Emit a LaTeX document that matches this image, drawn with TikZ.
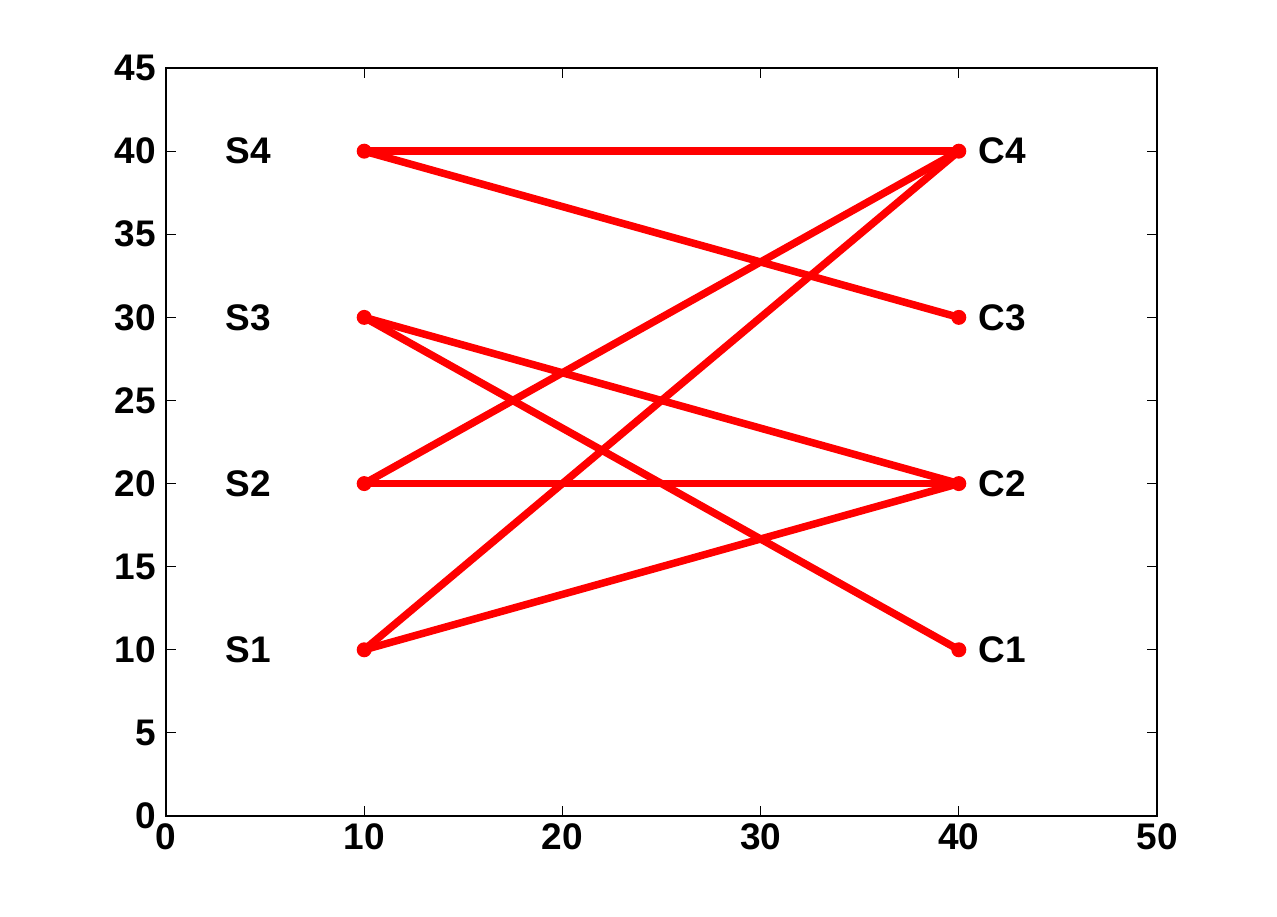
\documentclass[tikz,border=0pt]{standalone}
\usepackage{fontspec}
\setmainfont{Liberation Sans}
\tikzset{
  edge/.style={red, line width=7.5pt, line cap=round},
  dot/.style={circle, fill=red, inner sep=0pt, minimum size=15pt},
  lbl/.style={font=\fontsize{37}{44}\selectfont\bfseries, inner sep=0pt},
  axisline/.style={black, line width=1.2pt},
}
\begin{document}
\begin{tikzpicture}
\useasboundingbox (0,0) rectangle (1277pt,917pt);
\begin{scope}[shift={(166pt,101pt)}, x=19.82pt, y=16.62pt]
  % axes box
  \draw[axisline] (0,0) rectangle (50,45);
  \foreach \t in {0,10,...,50} {
    \draw[axisline] (\t,0) -- ++(0,10pt);
    \draw[axisline] (\t,45) -- ++(0,-10pt);
    \node[lbl, anchor=north] (xl\t) at ([yshift=-7pt]\t,0) {\t};
  }
  \foreach \t in {0,5,...,45} {
    \draw[axisline] (0,\t) -- ++(10pt,0);
    \draw[axisline] (50,\t) -- ++(-10pt,0);
    \node[lbl, anchor=east] (yl\t) at ([xshift=-10pt]0,\t) {\t};
  }
  % points
  \coordinate (s1) at (10,10);
  \coordinate (s2) at (10,20);
  \coordinate (s3) at (10,30);
  \coordinate (s4) at (10,40);
  \coordinate (c1) at (40,10);
  \coordinate (c2) at (40,20);
  \coordinate (c3) at (40,30);
  \coordinate (c4) at (40,40);
  % edges
  \draw[edge] (s4) -- (c4);
  \draw[edge] (s4) -- (c3);
  \draw[edge] (s3) -- (c2);
  \draw[edge] (s3) -- (c1);
  \draw[edge] (s2) -- (c4);
  \draw[edge] (s2) -- (c2);
  \draw[edge] (s1) -- (c4);
  \draw[edge] (s1) -- (c2);
  % markers
  \foreach \p in {s1,s2,s3,s4,c1,c2,c3,c4} {
    \node[dot] (d\p) at (\p) {};
  }
  % labels
  \node[lbl, anchor=west] (ls1) at (3,10) {S1};
  \node[lbl, anchor=west] (ls2) at (3,20) {S2};
  \node[lbl, anchor=west] (ls3) at (3,30) {S3};
  \node[lbl, anchor=west] (ls4) at (3,40) {S4};
  \node[lbl, anchor=west] (lc1) at (41,10) {C1};
  \node[lbl, anchor=west] (lc2) at (41,20) {C2};
  \node[lbl, anchor=west] (lc3) at (41,30) {C3};
  \node[lbl, anchor=west] (lc4) at (41,40) {C4};
\end{scope}
\end{tikzpicture}
\end{document}
